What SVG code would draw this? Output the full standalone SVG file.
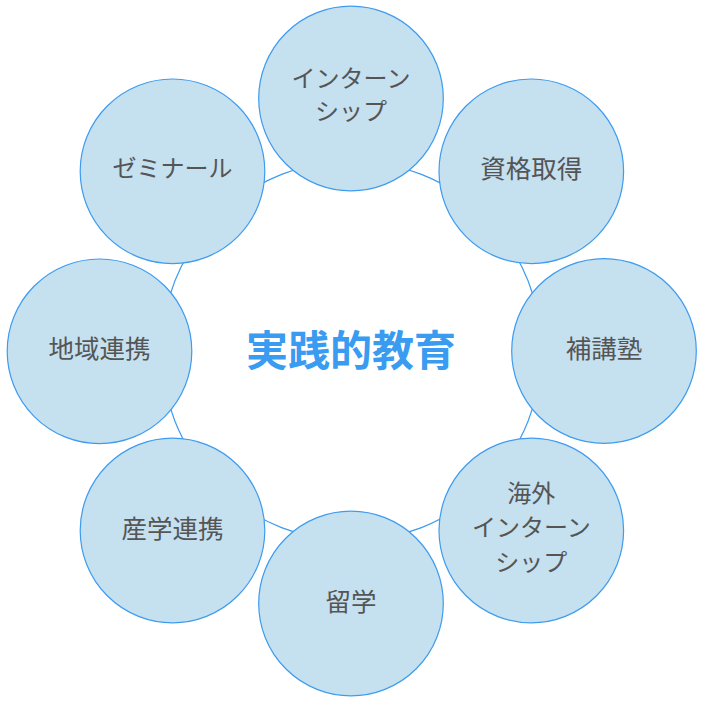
<svg xmlns="http://www.w3.org/2000/svg" width="712" height="704" viewBox="0 0 712 704">
<style>
.node circle{fill:#c5e0ef;stroke:#3d9bf0;stroke-width:1.2}
.lbl{font-family:"Noto Sans CJK JP","Noto Sans",sans-serif;font-size:24px;fill:#555555;text-anchor:middle;dominant-baseline:central}
.kj{font-size:25.5px}
.ttl{font-family:"Noto Sans CJK JP","Noto Sans",sans-serif;font-size:42px;font-weight:bold;fill:#3a9cf0;text-anchor:middle;dominant-baseline:central}
</style>
<rect width="712" height="704" fill="#ffffff"/>
<g id="connectors">
<circle cx="351.5" cy="351" r="190" fill="none" stroke="#3d9bf0" stroke-width="1.2"/>
</g>
<g id="n-intern" class="node"><circle cx="351" cy="98.5" r="92.3"/><text class="lbl" x="351" y="76.5">インターン</text><text class="lbl" x="351" y="109.5">シップ</text></g>
<g id="n-shikaku" class="node"><circle cx="531.3" cy="171.3" r="92.3"/><text class="lbl kj" x="531.3" y="166.5">資格取得</text></g>
<g id="n-hoko" class="node"><circle cx="604" cy="351" r="92.3"/><text class="lbl kj" x="604" y="346.5">補講塾</text></g>
<g id="n-kaigai" class="node"><circle cx="531.3" cy="530.5" r="92.3"/><text class="lbl" x="531.3" y="491">海外</text><text class="lbl" x="531.3" y="525.5">インターン</text><text class="lbl" x="531.3" y="560">シップ</text></g>
<g id="n-ryugaku" class="node"><circle cx="351" cy="603.5" r="92.3"/><text class="lbl kj" x="351" y="599">留学</text></g>
<g id="n-sangaku" class="node"><circle cx="172.5" cy="530.5" r="92.3"/><text class="lbl kj" x="172.5" y="526">産学連携</text></g>
<g id="n-chiiki" class="node"><circle cx="99.5" cy="351.3" r="92.3"/><text class="lbl kj" x="99.5" y="346.7">地域連携</text></g>
<g id="n-zemi" class="node"><circle cx="172.5" cy="171.3" r="92.3"/><text class="lbl" x="172.5" y="166.5">ゼミナール</text></g>
<g id="center"><text class="ttl" x="351" y="347.5">実践的教育</text></g>
</svg>
